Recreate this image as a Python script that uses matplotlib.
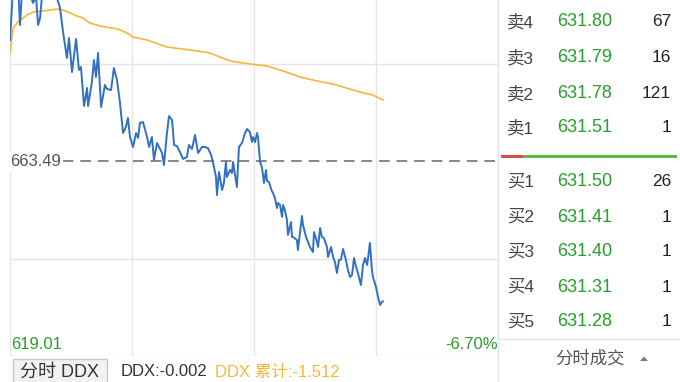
import matplotlib
matplotlib.use("Agg")
import matplotlib.pyplot as plt
from matplotlib.patches import Rectangle, Polygon

plt.rcParams['font.family'] = ['Liberation Sans', 'Noto Sans CJK SC', 'DejaVu Sans']

# minutes since open (240 per session) and prices
minutes = [0, 1.5, 3.9, 4.9, 5.9, 8.9, 11.3, 12.8, 13.8, 14.8, 15.7, 19.7, 23.1, 24.6,
           26.1, 28.0, 29.0, 30.5, 32.5, 33.9, 34.9, 36.4, 37.9, 38.4, 40.3, 41.3,
           42.3, 43.3, 44.8, 46.7, 47.7, 49.7, 51.1, 52.6, 54.1, 55.6, 57.0, 58.0,
           59.0, 60.5, 62.0, 63.0, 63.9, 65.4, 67.4, 68.4, 69.8, 70.8, 72.3, 74.8,
           75.7, 77.2, 78.2, 79.7, 80.7, 82.1, 83.6, 85.1, 87.0, 88.0, 89.5, 91.0,
           92.5, 94.4, 95.9, 97.4, 98.9, 99.8, 101.3, 101.8, 102.8, 104.3, 105.2,
           106.2, 106.7, 108.2, 109.2, 109.7, 111.6, 112.6, 114.1, 115.6, 116.6,
           118.0, 119.0, 119.5, 120.5, 121.5, 122.0, 123.0, 123.9, 124.9, 125.9,
           126.4, 127.4, 128.4, 129.3, 130.3, 131.3, 131.8, 132.8, 133.8, 134.3,
           135.2, 136.2, 136.7, 138.2, 138.7, 139.2, 141.1, 141.6, 143.6, 144.1,
           145.6, 146.6, 147.5, 149.0, 149.5, 151.0, 151.5, 152.5, 153.4, 154.4,
           155.9, 156.4, 157.9, 158.9, 159.8, 160.8, 161.8, 162.8, 163.8, 165.2,
           166.2, 167.2, 168.2, 169.2, 170.2, 171.1, 172.6, 173.6, 174.6, 175.6,
           176.1, 177.0, 178.0, 178.5, 180.0, 181.0, 182.0, 182.9, 183.4]
prices = [691.09, 703.0, 705.0, 694.51, 702.0, 703.0, 699.53, 701.0, 694.51, 696.11,
          701.0, 703.0, 700.7, 698.39, 692.91, 686.98, 691.55, 683.79, 691.32, 684.25,
          684.93, 676.04, 680.14, 676.04, 681.51, 686.53, 682.65, 688.12, 675.81,
          680.83, 679.91, 679.69, 684.70, 681.97, 676.72, 669.88, 671.25, 673.30,
          668.96, 666.68, 669.88, 668.74, 672.16, 672.39, 668.96, 666.68, 668.96,
          663.72, 667.60, 665.31, 662.58, 669.88, 673.75, 672.84, 667.14, 666.91,
          665.54, 663.95, 664.40, 667.14, 666.23, 669.42, 665.31, 666.68, 666.68,
          666.40, 664.86, 663.26, 659.84, 655.73, 660.98, 656.88, 658.47, 663.26,
          659.84, 661.44, 660.75, 663.26, 657.56, 666.68, 667.60, 669.88, 670.79,
          670.10, 667.82, 668.96, 667.82, 669.88, 668.74, 663.26, 662.12, 658.47,
          661.44, 658.93, 658.70, 657.10, 656.19, 655.05, 652.77, 653.91, 653.45,
          650.72, 653.45, 652.31, 650.03, 646.61, 649.58, 646.15, 646.15, 645.47,
          643.19, 650.94, 648.89, 646.15, 645.01, 643.87, 642.73, 647.29, 645.01,
          643.87, 648.21, 646.15, 645.90, 643.87, 641.59, 643.87, 641.59, 640.45,
          637.94, 640.91, 641.00, 643.42, 640.91, 638.63, 637.03, 637.49, 641.36,
          639.31, 637.94, 635.21, 639.77, 641.36, 639.77, 641.36, 644.79, 638.63,
          637.03, 634.75, 632.47, 630.64, 631.33, 631.50]

avg_minutes = [0, 1.5, 3.9, 8.4, 11.3, 16.2, 23.6, 26.1, 33.0, 35.9, 39.3, 44.3,
               53.1, 57.5, 60.5, 67.4, 77.2, 88.5, 98.4, 103.3, 108.2, 118.0, 126.4,
               134.3, 142.6, 151.0, 158.9, 163.8, 172.1, 178.5, 183.4]
avg_prices = [688.12, 693.83, 695.20, 696.79, 697.48, 697.71, 698.16, 697.93, 696.56,
              696.11, 694.97, 694.28, 693.60, 692.69, 691.77, 691.09, 689.49, 688.81,
              688.12, 687.21, 686.30, 685.62, 685.16, 684.02, 682.65, 681.74, 681.05,
              680.37, 679.23, 678.54, 677.40]

prev_close = 663.49
low_price = 619.01
low_label = "619.01"
low_pct = "-6.70%"
time_ticks = [0, 60, 120, 180, 240]

ask_labels = ["卖4", "卖3", "卖2", "卖1"]
ask_prices = ["631.80", "631.79", "631.78", "631.51"]
ask_vols = ["67", "16", "121", "1"]
bid_labels = ["买1", "买2", "买3", "买4", "买5"]
bid_prices = ["631.50", "631.41", "631.40", "631.31", "631.28"]
bid_vols = ["26", "1", "1", "1", "1"]

W, H = 680, 382
fig = plt.figure(figsize=(W / 100, H / 100), dpi=100)
fig.patch.set_facecolor("white")

def fx(px):
    return px / W

def fy(py):
    return 1 - py / H

GRID = "#e4e5e8"

# price chart (top part is cut off by the figure edge)
span = prev_close - low_price
ax = fig.add_axes([fx(10), fy(356), fx(488), (356 + 34) / H])
ax.set_xlim(0, 240)
ax.set_ylim(low_price, prev_close + span)
ax.set_axis_off()
for t in time_ticks:
    ax.axvline(t, color=GRID, lw=1, zorder=0)
for lvl in [low_price, prev_close - span / 2, prev_close + span / 2]:
    ax.axhline(lvl, color=GRID, lw=1, zorder=0)
ax.axhline(prev_close, color="#666666", lw=1.1, dashes=(7, 4.5), zorder=1)

ax.plot(avg_minutes, avg_prices, color="#f5b73b", lw=1.2, zorder=3)
ax.plot(minutes, prices, color="#3170c2", lw=1.4, zorder=4)

ax.text(0, prev_close, f"{prev_close:.2f}", ha="left", va="center", fontsize=12,
        color="#555555", zorder=5,
        bbox=dict(facecolor="white", edgecolor="none", pad=1.5))
ax.text(0.5, low_price + span * 0.058, low_label, ha="left", va="center",
        fontsize=12, color="#2a9d2a", zorder=5)
ax.text(240, low_price + span * 0.058, low_pct, ha="right", va="center",
        fontsize=12, color="#2a9d2a", zorder=5)

# overlay for the panels
ov = fig.add_axes([0, 0, 1, 1])
ov.set_xlim(0, W)
ov.set_ylim(H, 0)
ov.set_axis_off()
ov.patch.set_alpha(0)

ov.plot([498, 498], [0, H], color=GRID, lw=1)
ov.plot([498, W], [339, 339], color=GRID, lw=1)

ask_y = [22, 58, 94, 128]
bid_y = [182, 217, 252, 287, 322]
for lab, pr, vol, y in zip(ask_labels + bid_labels, ask_prices + bid_prices,
                           ask_vols + bid_vols, ask_y + bid_y):
    ov.text(507, y, lab, ha="left", va="center", fontsize=12.5, color="#444444")
    ov.text(612, y, pr, ha="right", va="center", fontsize=13, color="#26a02a")
    ov.text(671, y, vol, ha="right", va="center", fontsize=12.5, color="#222222")

ov.add_patch(Rectangle((501, 154.5), 22, 3, color="#e0474c", lw=0))
ov.add_patch(Rectangle((523, 154.5), 154, 3, color="#5cb842", lw=0))

ov.text(590, 358, "分时成交", ha="center", va="center", fontsize=12.5, color="#555555")
ov.add_patch(Polygon([[640, 361], [648, 361], [644, 356.5]], closed=True,
                     color="#777777", lw=0))

# bottom strip
ov.add_patch(Rectangle((13, 359), 94, 30, facecolor="#f2f2f2", edgecolor="#c8c8c8", lw=1))
ov.text(60, 372, "分时 DDX", ha="center", va="center", fontsize=13, color="#333333")
ov.text(121, 372, "DDX:-0.002", ha="left", va="center", fontsize=12, color="#333333")
ov.text(215, 372, "DDX 累计:-1.512", ha="left", va="center", fontsize=12, color="#f5b73b")

fig.savefig("out.png", dpi=100)
